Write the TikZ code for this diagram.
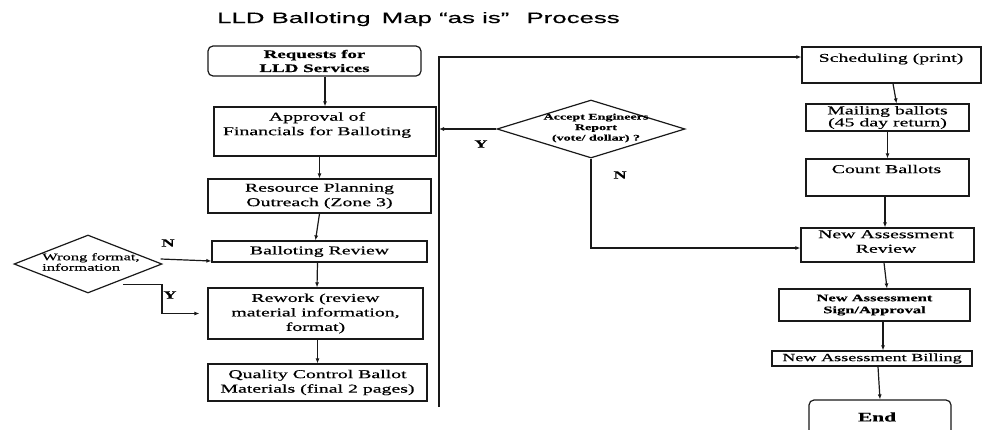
\documentclass[tikz,border=0pt]{standalone}
\usepackage{fontspec}
\setmainfont[FakeStretch=1.65,FakeBold=0.5]{Liberation Serif}
\newfontfamily\titlefont[FakeStretch=1.72,FakeBold=0.4]{Liberation Sans}
\usetikzlibrary{shapes.geometric,arrows.meta,calc}

\tikzset{
  line/.style={draw=black!90, line width=1.2pt},
  arr/.style={line, -{Latex[length=5pt,width=4pt]}},
  box/.style={line, rectangle, inner sep=0pt, align=center,
              font=\fontsize{12}{14.5}\selectfont},
  endbox/.style={box, rounded corners=5pt},
  choice/.style={line, diamond, inner sep=0pt},
  txt/.style={inner sep=0pt, align=center, font=\fontsize{12}{14.5}\selectfont},
  yn/.style={inner sep=0pt, font=\bfseries\fontsize{11}{13}\selectfont},
}

\begin{document}
\begin{tikzpicture}[x=1pt, y=-1pt]
  \clip (0,0) rectangle (983,429);
  \fill[white] (0,0) rectangle (983,429);

  % heading
  \node[inner sep=0pt, anchor=base west, font=\titlefont\fontsize{15}{18}\selectfont]
    (title) at (217,23) {LLD Balloting\hspace{4pt} Map “as is”\hspace{10pt} Process};

  % left column
  \node[endbox, minimum width=213pt, minimum height=30pt,
        font=\bfseries\fontsize{11.5}{14}\selectfont]
    (req) at (314.5,61) {Requests for\\LLD Services};
  \node[box, minimum width=222pt, minimum height=49pt] (appr) at (325,131.5) {};
  \node[txt] (apprt) at (317,125) {Approval of\\Financials for Balloting};
  \node[box, minimum width=223pt, minimum height=34pt]
    (res) at (319.5,196) {Resource Planning\\Outreach (Zone 3)};
  \node[box, minimum width=215pt, minimum height=21pt]
    (rev) at (319.5,251.5) {Balloting Review};
  \node[box, minimum width=215pt, minimum height=51pt]
    (rew) at (315.5,313.5) {Rework (review\\material information,\\format)};
  \node[box, minimum width=219pt, minimum height=37pt]
    (qc) at (317.5,382.5) {Quality Control Ballot\\Materials (final 2 pages)};

  % format check
  \node[choice, minimum width=148pt, minimum height=58pt] (wrong) at (88,264) {};
  \node[inner sep=0pt, align=left, anchor=west, font=\fontsize{10}{10.5}\selectfont]
    (wrongt) at (42,262) {Wrong format,\\information};

  % engineer's report decision
  \node[choice, minimum width=188pt, minimum height=58pt] (accept) at (591,129) {};
  \node[inner sep=0pt, align=center, font=\bfseries\fontsize{8.5}{10.5}\selectfont]
    (acceptt) at (596,128) {Accept Engineers\\Report\\(vote/ dollar) ?};

  % right column
  \node[box, minimum width=179pt, minimum height=36pt] (sched) at (891.5,65) {};
  \node[txt] (schedt) at (891,59) {Scheduling (print)};
  \node[box, minimum width=163pt, minimum height=27pt, font=\fontsize{12}{12}\selectfont]
    (mail) at (887.5,117.5) {Mailing ballots\\(45 day return)};
  \node[box, minimum width=163pt, minimum height=37pt] (count) at (887.5,177.5) {};
  \node[txt] (countt) at (886.5,169) {Count Ballots};
  \node[box, minimum width=173pt, minimum height=34pt] (nar) at (887.5,245) {};
  \node[txt] (nart) at (886,241.5) {New Assessment\\Review};
  \node[box, minimum width=191pt, minimum height=32pt,
        font=\bfseries\fontsize{10}{12}\selectfont]
    (sign) at (874.5,305) {New Assessment\\Sign/Approval};
  \node[box, minimum width=200pt, minimum height=15pt, font=\fontsize{11}{13}\selectfont]
    (bill) at (872,358.5) {New Assessment Billing};
  \node[endbox, minimum width=142pt, minimum height=45pt] (end) at (880,422.5) {};
  \node[inner sep=0pt, font=\bfseries\fontsize{13}{15}\selectfont] (endt) at (877,417) {End};

  % return line on the right of the left column
  \coordinate (bustop) at (439,57);
  \coordinate (busbot) at (439,407);

  % left column flow
  \draw[arr] (req.south -| appr.north) -- (appr.north);
  \draw[arr] (appr.south -| res.north) -- (res.north);
  \draw[arr] (res.south) -- ([xshift=-4pt]rev.north);
  \draw[arr] ([xshift=-2pt]rev.south) -- ([xshift=1.5pt]rew.north);
  \draw[arr] (rew.south -| qc.north) -- (qc.north);

  % format check branches
  \draw[arr] ($(wrong.east)+(-2,-5)$) -- ([yshift=-9.5pt]rev.west);
  \draw[arr] ($(wrong.south)+(35,-9)$) -- ++(39,0) |- ([xshift=-8pt]rew.west);
  \node[yn] (n1) at (168,243) {N};
  \node[yn] (y1) at (170,295) {Y};

  % return line up to scheduling
  \draw[arr] (busbot) -- (bustop) -- (bustop -| sched.west);

  % engineer's report branches
  \draw[arr] (accept.west) -- (accept.west -| busbot);
  \draw[arr] (accept.south) |- ([yshift=-3pt]nar.west);
  \node[yn] (y2) at (481,144) {Y};
  \node[yn] (n2) at (620,175) {N};

  % right column flow
  \draw[arr] ([xshift=1.5pt]sched.south) -- ([xshift=9pt]mail.north);
  \draw[arr] (mail.south) -- (count.north);
  \draw[arr] ([xshift=-2.5pt]count.south) -- ([xshift=-2.5pt]nar.north);
  \draw[arr] ([xshift=-3.5pt]nar.south) -- ([xshift=12.5pt]sign.north);
  \draw[arr] ([xshift=8.5pt]sign.south) -- ([xshift=11pt]bill.north);
  \draw[arr] ([xshift=6pt]bill.south) -- (end.north);
\end{tikzpicture}
\end{document}
